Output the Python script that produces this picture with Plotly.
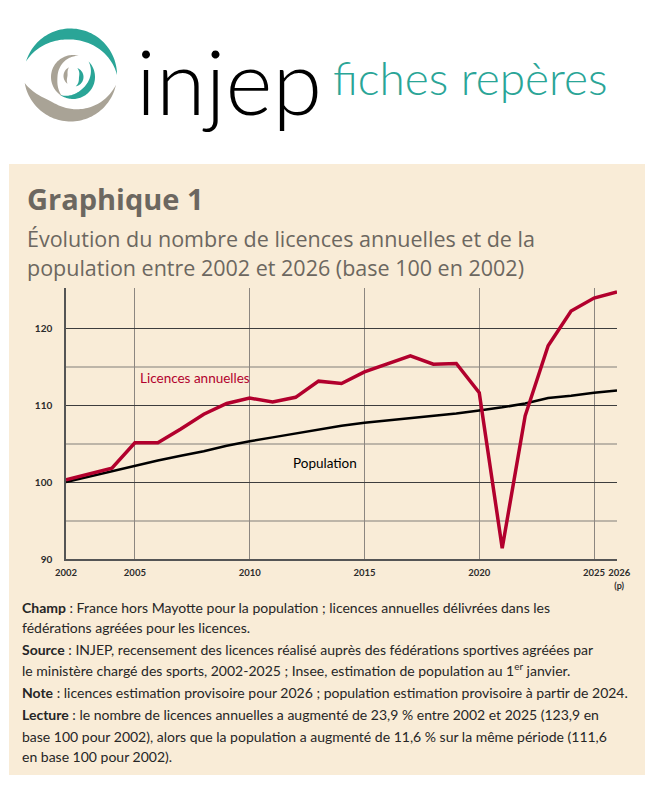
import numpy as np
import plotly.graph_objects as go

# données (base 100 en 2002)
years = list(range(2002, 2027))
licences = [100.3, 101.0, 101.8, 105.1, 105.1, 106.9, 108.8, 110.2, 110.9, 110.4,
            111.0, 113.1, 112.8, 114.3, 115.4, 116.4, 115.3, 115.4, 111.6, 91.4,
            108.6, 117.7, 122.2, 123.9, 124.7]
population = [100.0, 100.7, 101.4, 102.1, 102.8, 103.4, 104.0, 104.7, 105.3, 105.8,
              106.3, 106.8, 107.3, 107.7, 108.0, 108.3, 108.6, 108.9, 109.3, 109.7,
              110.2, 110.9, 111.2, 111.6, 111.9]

x_ticks = [2002, 2005, 2010, 2015, 2020, 2025, 2026]
x_labels = ['2002', '2005', '2010', '2015', '2020', '2025',
            "&nbsp;&nbsp;2026<br><span style='font-size:9px'>&nbsp;&nbsp;(p)</span>"]
y_major = [90, 100, 110, 120]
y_minor = [95, 105, 115]

title = 'Graphique 1'
subtitle = ['Évolution du nombre de licences annuelles et de la',
            'population entre 2002 et 2026 (base 100 en 2002)']
notes = [
    '<b>Champ</b> : France hors Mayotte pour la population ; licences annuelles délivrées dans les',
    'fédérations agréées pour les licences.',
    '<b>Source</b> : INJEP, recensement des licences réalisé auprès des fédérations sportives agréées par',
    'le ministère chargé des sports, 2002-2025 ; Insee, estimation de population au 1<sup>er</sup> janvier.',
    '<b>Note</b> : licences estimation provisoire pour 2026 ; population estimation provisoire à partir de 2024.',
    '<b>Lecture</b> : le nombre de licences annuelles a augmenté de 23,9 % entre 2002 et 2025 (123,9 en',
    'base 100 pour 2002), alors que la population a augmenté de 11,6 % sur la même période (111,6',
    'en base 100 pour 2002).',
]
note_y = [607, 627, 649, 669, 692, 714, 736, 756]

BEIGE = '#f9ecd7'
RED = '#b2002d'
TEAL = '#2aa597'
GREY = '#a9a396'
TXT = '#6c6760'

# la page ajoute 8 px de marge autour de la figure
OFF = 8
W, H = 656 - 2 * OFF, 790 - 2 * OFF
# zone de tracé en pixels (repère de la page)
L, R, T, B = 66, 617, 288, 559


def px(x):
    return (x - L) / (R - L)


def py(y):
    return (B - y) / (B - T)


def crescent(cx, cy, r, a0, a1, tmax, peak=0.5, n=60):
    # arc effilé aux deux bouts (logo)
    t = np.linspace(0, 1, n)
    ang = np.radians(a0 + (a1 - a0) * t)
    prof = np.where(t < peak, np.sin(np.pi / 2 * t / peak),
                    np.sin(np.pi / 2 * (1 - t) / (1 - peak)))
    rin = r - tmax * prof
    pts = [(cx + r * np.cos(a), cy - r * np.sin(a)) for a in ang]
    pts += [(cx + ri * np.cos(a), cy - ri * np.sin(a)) for a, ri in zip(ang[::-1], rin[::-1])]
    return 'M ' + ' L '.join(f'{px(x):.5f},{py(y):.5f}' for x, y in pts) + ' Z'


fig = go.Figure()
fig.add_trace(go.Scatter(x=years, y=population, mode='lines',
                         line=dict(color='black', width=2.5), hoverinfo='skip'))
fig.add_trace(go.Scatter(x=years, y=licences, mode='lines',
                         line=dict(color=RED, width=3.5), hoverinfo='skip'))

shapes = [dict(type='rect', xref='paper', yref='paper', x0=px(9), x1=px(645),
               y0=py(775), y1=py(164), fillcolor=BEIGE, line_width=0, layer='below')]
logo = [
    (TEAL, (70.5, 75, 46.5, 163, 0, 11, 0.48)),
    (GREY, (70.5, 75, 46.5, 190, 348, 14, 0.32)),
    (GREY, (73, 77, 22, 240, 75, 6.5, 0.39)),
    (TEAL, (73, 77, 22, 45, -125, 7, 0.53)),
    (GREY, (73, 76, 9.5, 235, 115, 4, 0.5)),
    (TEAL, (74, 77, 9.5, 70, -80, 4.5, 0.5)),
]
for col, args in logo:
    shapes.append(dict(type='path', xref='paper', yref='paper', path=crescent(*args),
                       fillcolor=col, line_width=0))

ann = [
    dict(x=px(134), y=py(80), text='injep', xanchor='left', yanchor='middle',
         font=dict(family='Lato', size=90, color='black', weight=300)),
    dict(x=px(331), y=py(77), text='fiches repères', xanchor='left', yanchor='middle',
         font=dict(family='Lato', size=46, color=TEAL, weight=300)),
    dict(x=px(25), y=py(198), text=f'<b>{title}</b>', xanchor='left', yanchor='middle',
         font=dict(family='Open Sans', size=29, color=TXT)),
    dict(x=px(25), y=py(238), text=subtitle[0], xanchor='left', yanchor='middle',
         font=dict(family='Open Sans', size=21.5, color=TXT)),
    dict(x=px(25), y=py(267), text=subtitle[1], xanchor='left', yanchor='middle',
         font=dict(family='Open Sans', size=21.5, color=TXT)),
    dict(x=2007.6, y=113.5, xref='x', yref='y', text='Licences annuelles',
         font=dict(family='Lato', size=13.5, color=RED)),
    dict(x=2013.3, y=102.5, xref='x', yref='y', text='Population',
         font=dict(family='Lato', size=13.5, color='black')),
]
for txt, yy in zip(notes, note_y):
    ann.append(dict(x=px(20), y=py(yy), text=txt, xanchor='left', yanchor='middle',
                    font=dict(family='Lato', size=14, color='#262626')))
for a in ann:
    a.setdefault('xref', 'paper')
    a.setdefault('yref', 'paper')
    a['showarrow'] = False

fig.update_layout(
    width=W, height=H,
    margin=dict(l=L - OFF, r=W + OFF - R, t=T - OFF, b=H + OFF - B),
    paper_bgcolor='white', plot_bgcolor=BEIGE,
    showlegend=False,
    shapes=shapes, annotations=ann,
    font=dict(family='Lato', color='#2b2b2b'),
)
fig.update_xaxes(range=[2002, 2026], tickvals=x_ticks, ticktext=x_labels,
                 showgrid=True, gridcolor='#8c8680', gridwidth=1,
                 showline=True, linecolor='#555', linewidth=1.5, zeroline=False,
                 ticks='', ticklabelstandoff=4, tickangle=0,
                 tickfont=dict(family='Lato', size=9.5, color='#2b2b2b', weight='bold'))
fig.update_yaxes(range=[90, 125.2], tickvals=y_major,
                 showgrid=True, gridcolor='#3d3d3d', gridwidth=1,
                 minor=dict(tickvals=y_minor, showgrid=True, gridcolor='#bdb5a8', gridwidth=1.5),
                 showline=True, linecolor='#555', linewidth=1.5, zeroline=False,
                 ticks='', ticklabelstandoff=10,
                 tickfont=dict(family='Lato', size=10, color='#2b2b2b', weight='bold'))

fig.write_html('out.html')
